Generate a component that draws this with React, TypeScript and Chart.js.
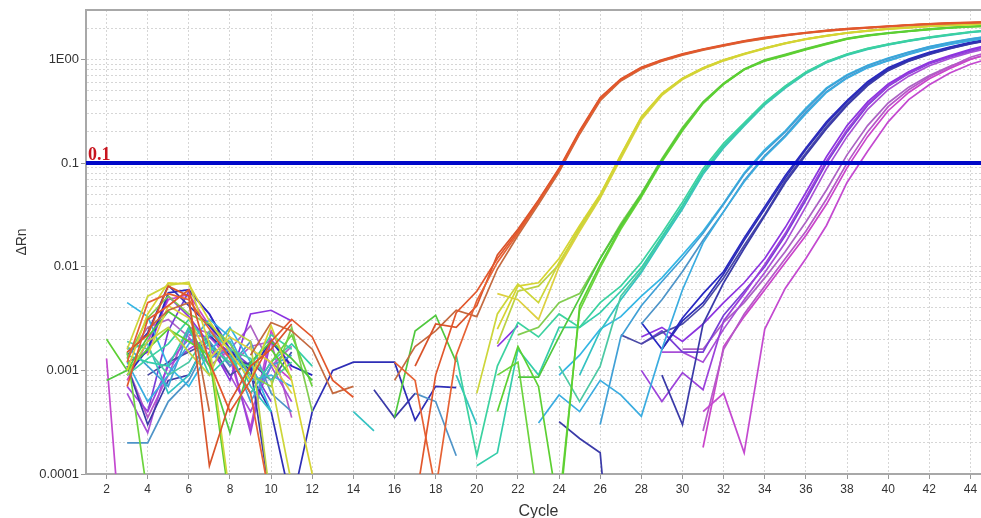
import React, { useEffect, useRef } from 'react';
import { Chart, registerables } from 'chart.js';

Chart.register(...registerables);

const n = null;

const CYCLES = [1, 2, 3, 4, 5, 6, 7, 8, 9, 10, 11, 12, 13, 14, 15, 16, 17, 18, 19, 20, 21, 22, 23, 24, 25, 26, 27, 28, 29, 30, 31, 32, 33, 34, 35, 36, 37, 38, 39, 40, 41, 42, 43, 44, 45];
const X_TICKS = [2, 4, 6, 8, 10, 12, 14, 16, 18, 20, 22, 24, 26, 28, 30, 32, 34, 36, 38, 40, 42, 44];
const Y_TICKS = [0.0001, 0.001, 0.01, 0.1, 1];
const Y_TICK_LABELS = ['0.0001', '0.001', '0.01', '0.1', '1E00'];
const Y_GRID = [
  0.0001, 0.0002, 0.0003, 0.0004, 0.0005, 0.0006, 0.0007, 0.0008, 0.0009,
  0.001, 0.002, 0.003, 0.004, 0.005, 0.006, 0.007, 0.008, 0.009,
  0.01, 0.02, 0.03, 0.04, 0.05, 0.06, 0.07, 0.08, 0.09,
  0.1, 0.2, 0.3, 0.4, 0.5, 0.6, 0.7, 0.8, 0.9,
  1, 2, 3,
];
const THRESHOLD = 0.1;
const THRESHOLD_LABEL = '0.1';
const X_TITLE = 'Cycle';
const Y_TITLE = 'ΔRn';

// ---- orange group ----
const O1 = [n, n, .0007, .0031, .0042, .006, .0012, .0004, .0008, .0019,
  .0031, .0021, .0008, .00055, n, n, .00005, .0009, .0036, .0058,
  .012, .022, .043, .087, .2, .42, .64, .83, .98, 1.12,
  1.25, 1.37, 1.5, 1.61, 1.72, 1.81, 1.9, 1.97, 2.03, 2.09,
  2.15, 2.2, 2.24, 2.27, 2.3];
const O2 = [n, n, .0012, .0045, .0055, .0048, .0025, .0013, .0006, .00005,
  n, n, n, n, n, .0012, .0008, .00007, .0014, .0047,
  .011, .021, .042, .085, .195, .41, .63, .82, .97, 1.11,
  1.24, 1.36, 1.49, 1.6, 1.71, 1.8, 1.89, 1.96, 2.02, 2.08,
  2.14, 2.19, 2.23, 2.26, 2.29];
const O3 = [n, n, .0015, .0022, .0065, .0052, .00012, .0005, .0011, .0016,
  .0028, n, n, n, n, n, .0011, .0028, .0026, .0042,
  .013, .023, .044, .089, .205, .43, .65, .84, .99, 1.13,
  1.26, 1.38, 1.51, 1.63, 1.73, 1.82, 1.91, 1.98, 2.04, 2.1,
  2.16, 2.21, 2.25, 2.28, 2.31];
const O4 = [n, n, n, .0025, .0038, .0045, .0004, n, .0014, .0029,
  .0024, .0016, .0006, .0007, n, .0008, .0017, .0024, .0038, .0033,
  .0095, .02, .04, .082, .19, .4, .62, .81, .96, 1.1,
  1.23, 1.35, 1.48, 1.59, 1.7, 1.79, 1.88, 1.95, 2.01, 2.07,
  2.13, 2.18, 2.22, 2.25, 2.28];
// ---- yellow group ----
const Y1 = [n, n, .001, .0035, .007, .0068, .003, .0015, .0008, .0027,
  .0008, .0001, n, n, n, n, n, n, n, n,
  .0025, .0065, .007, .012, .025, .05, .12, .28, .47, .66,
  .83, .99, 1.14, 1.29, 1.44, 1.58, 1.7, 1.81, 1.9, 1.98,
  2.04, 2.1, 2.15, 2.19, 2.23];
const Y2 = [n, n, .0016, .0052, .0066, .0071, .0018, .00006, n, .0008,
  .00008, n, n, n, n, n, n, n, n, .0006,
  .0035, .0068, .0045, .011, .023, .047, .115, .27, .46, .65,
  .82, .98, 1.13, 1.28, 1.43, 1.57, 1.69, 1.8, 1.89, 1.97,
  2.03, 2.09, 2.14, 2.18, 2.22];
const Y3 = [n, n, n, .0014, .0042, .0032, .0013, .0021, .0016, .0012,
  .0006, n, n, n, n, n, n, n, n, n,
  .0055, .0048, .0031, .01, .022, .046, .11, .26, .45, .64,
  .81, .97, 1.12, 1.27, 1.42, 1.56, 1.68, 1.79, 1.88, 1.96,
  2.02, 2.08, 2.13, 2.17, 2.21];
const Y4 = [n, n, .0009, .0019, .0026, .0015, .0009, .0025, .0019, .00005,
  n, n, n, n, n, n, n, n, n, n,
  .0018, .0058, .0065, .0105, .024, .049, .118, .275, .465, .655,
  .825, .985, 1.135, 1.285, 1.435, 1.575, 1.695, 1.805, 1.895, 1.975,
  2.035, 2.095, 2.145, 2.185, 2.225];
// ---- green group ----
const G1 = [n, .002, .001, .0016, .0025, .0019, .0014, .00005, n, .0016,
  .00085, n, n, n, n, n, n, n, n, n,
  .0004, .0017, .0007, .00004, .0042, .0105, .024, .048, .105, .21,
  .38, .58, .8, .97, 1.1, 1.25, 1.41, 1.58, 1.7, 1.79,
  1.87, 1.95, 2.02, 2.07, 2.11];
const G2 = [n, .0008, .001, .0021, .0037, .0027, .0011, .00025, .0012, .0019,
  .0013, .0008, n, n, n, .00035, .0024, .0034, .0012, n,
  n, .00086, .00086, .0021, .005, .012, .025, .05, .108, .215,
  .385, .585, .805, .98, 1.11, 1.26, 1.42, 1.59, 1.71, 1.8,
  1.88, 1.96, 2.03, 2.08, 2.12];
const G3 = [n, n, .0015, .00006, n, n, n, n, n, .0012,
  .0022, .0007, n, n, n, n, n, n, n, n,
  .0009, .0012, .00005, .00005, .0038, .0098, .023, .047, .103, .205,
  .375, .575, .795, .965, 1.09, 1.24, 1.4, 1.57, 1.69, 1.78,
  1.86, 1.94, 2.01, 2.06, 2.1];
const G4 = [n, n, .0013, .0032, .0052, .0035, .0028, .0018, .0009, .0007,
  .0026, .0004, n, n, n, n, n, n, n, n,
  n, .0022, .0026, .0045, .0055, .012, .026, .051, .11, .22,
  .39, .59, .81, .99, 1.12, 1.27, 1.43, 1.6, 1.72, 1.81,
  1.89, 1.97, 2.04, 2.09, 2.13];
// ---- teal group ----
const T1 = [n, n, .0009, .0013, .0018, .0031, .0017, .0012, .0011, .0022,
  .0016, n, n, n, n, n, n, n, .0014, .00015,
  .0011, .0029, .0021, .0035, .0026, .0045, .0065, .011, .021, .042,
  .088, .155, .245, .385, .555, .755, .955, 1.13, 1.28, 1.41,
  1.53, 1.64, 1.75, 1.85, 1.93];
const T2 = [n, n, .0014, .0012, .0011, .0026, .0009, .0014, .0006, .0012,
  .0018, .0011, n, n, n, n, n, n, n, .00012,
  .00016, .0016, .0009, .0026, .0026, .0036, .0058, .0098, .0195, .039,
  .083, .148, .238, .378, .548, .748, .948, 1.12, 1.27, 1.4,
  1.52, 1.63, 1.74, 1.84, 1.92];
const T3 = [n, n, .0019, .0016, .0009, .0012, .0024, .0016, .0013, .0008,
  .0012, n, n, n, n, n, n, n, n, n,
  n, n, n, .0011, .0005, .0011, .0052, .0092, .019, .038,
  .081, .145, .234, .372, .54, .74, .94, 1.11, 1.26, 1.39,
  1.51, 1.62, 1.73, 1.83, 1.91];
const T4 = [n, n, .0016, .0018, .0006, .0009, .0022, .0019, .0007, .0004,
  n, n, n, .0004, .00026, n, n, n, .0009, .0003,
  n, n, n, n, .0009, .0024, .0048, .0088, .018, .036,
  .078, .14, .228, .365, .53, .73, .93, 1.1, 1.25, 1.38,
  1.5, 1.61, 1.72, 1.82, 1.9];
// ---- light blue group ----
const L1 = [n, n, .0012, .0005, .0009, .0018, .0031, .0021, .0008, .0009,
  .0007, n, n, n, n, n, n, n, n, n,
  n, n, .00031, .00058, .0004, .0008, .00058, .00036, .0016, .006,
  .017, .034, .066, .115, .18, .3, .48, .66, .83, .97,
  1.12, 1.27, 1.4, 1.52, 1.63];
const L2 = [n, n, .0017, .0011, .0007, .0024, .0013, .0016, .0005, .0011,
  .0014, n, n, n, n, n, n, n, n, n,
  n, n, n, n, n, .0003, .0021, .0042, .0072, .012,
  .021, .04, .078, .13, .2, .33, .52, .7, .87, 1.02,
  1.17, 1.32, 1.45, 1.57, 1.68];
const L3 = [n, n, .0045, .0033, .0011, .0007, .0015, .0026, .0012, .0004,
  n, n, n, n, n, n, n, n, n, n,
  n, n, n, .0009, .0014, .0025, .0033, .0052, .0078, .013,
  .022, .041, .08, .135, .205, .34, .53, .71, .88, 1.03,
  1.18, 1.33, 1.46, 1.58, 1.69];
const L4 = [n, n, .0002, .0002, .0005, .0008, .0019, .0011, .0019, .0006,
  .0004, n, n, n, n, n, .0006, .0005, .00015, n,
  n, n, n, n, n, n, n, .0028, .0048, .009,
  .018, .034, .068, .118, .185, .31, .49, .67, .84, .98,
  1.13, 1.28, 1.41, 1.53, 1.64];
// ---- dark blue group ----
const D1 = [n, n, .0014, .0023, .0066, .0042, .0027, .0016, .0009, .0004,
  .00005, .0004, .001, .0012, .0012, .0012, .00033, .0007, .00068, n,
  n, n, n, n, n, n, n, n, .0016, .003,
  .0045, .0085, .018, .036, .072, .135, .24, .39, .59, .81,
  .99, 1.15, 1.3, 1.44, 1.57];
const D2 = [n, n, .0011, .0003, .0008, .0009, .0022, .0014, .0011, .00005,
  n, n, n, n, .00065, .00035, .0006, n, n, n,
  n, n, n, .00032, .00022, .00016, .000001, n, .0009, .0003,
  .0028, .007, .015, .031, .065, .12, .215, .36, .56, .78,
  .96, 1.12, 1.27, 1.41, 1.54];
const D3 = [n, n, .0009, .0016, .0056, .006, .0035, .0015, .001, .0019,
  .0011, .0009, n, n, n, n, n, n, n, n,
  n, n, n, n, n, n, n, .0029, .0016, .0032,
  .0055, .009, .019, .038, .076, .14, .25, .4, .61, .83,
  1.01, 1.17, 1.32, 1.46, 1.59];
const D4 = [n, n, n, .0009, .0012, .0015, .0019, .0009, .0012, .0008,
  .0015, n, n, n, n, n, n, n, n, n,
  n, n, n, n, n, n, .0022, .0018, .0023, .0028,
  .0042, .0078, .016, .032, .068, .125, .225, .37, .57, .79,
  .97, 1.13, 1.28, 1.42, 1.55];
// ---- violet group ----
const P1 = [n, n, .0012, .0015, .0052, .0033, .0018, .0008, .0035, .0038,
  .003, n, n, n, n, n, n, n, n, n,
  .0017, .0027, n, n, n, n, n, .0021, .0026, .0019,
  .0028, .0045, .007, .012, .024, .052, .115, .23, .39, .58,
  .76, .94, 1.09, 1.25, 1.4];
const P2 = [n, n, .0007, .0004, .0011, .0016, .0021, .0015, .00025, .002,
  .0011, n, n, n, n, n, n, n, n, n,
  n, n, n, n, n, n, n, .001, .0005, .00095,
  .00065, .003, .0055, .0105, .021, .047, .105, .21, .37, .56,
  .74, .92, 1.07, 1.22, 1.37];
const P3 = [n, n, n, .0004, .0024, .0058, .0035, .0016, .0011, .0005,
  n, n, n, n, n, n, n, n, n, n,
  n, n, n, n, n, n, n, .0018, .0024, .0015,
  .0015, .0034, .0058, .01, .02, .044, .1, .2, .36, .55,
  .73, .91, 1.06, 1.21, 1.35];
const P4 = [n, n, .0006, .00025, .0012, .002, .0016, .0009, .0004, .0011,
  .0005, n, n, n, n, n, n, n, n, n,
  n, n, n, n, n, n, n, n, .0015, .0015,
  .0012, .0025, .0048, .0088, .017, .038, .088, .18, .33, .51,
  .69, .87, 1.02, 1.17, 1.3];
// ---- magenta group ----
const M1 = [n, .0013, .000004, n, n, .0022, .0021, .0013, .00028, .0024,
  .001, n, n, n, n, n, n, n, n, n,
  n, n, n, n, n, n, n, n, n, n,
  .0004, .0006, .00016, .0025, .0062, .012, .025, .065, .13, .25,
  .41, .57, .74, .9, 1.03];
const M2 = [n, n, .0011, .00035, .0009, .0026, .0023, .0011, .0017, .0019,
  .00035, n, n, n, n, n, n, n, n, n,
  n, n, n, n, n, n, n, n, n, n,
  .00026, .0016, .0035, .0065, .012, .022, .045, .1, .2, .35,
  .51, .68, .85, 1.05, 1.2];
const M3 = [n, n, .0008, .0019, .0048, .0054, .0027, .0013, .0006, .0012,
  .0008, n, n, n, n, n, n, n, n, n,
  n, n, n, n, n, n, n, n, n, n,
  .00018, .0017, .0033, .006, .011, .02, .04, .09, .18, .32,
  .48, .65, .82, 1.0, 1.15];
const M4 = [n, n, .0013, .0026, .0031, .0021, .0011, .0016, .0027, .0011,
  .0017, n, n, n, n, n, n, n, n, n,
  n, n, n, n, n, n, n, n, n, .0016,
  .0016, .0029, .0045, .0078, .014, .027, .055, .12, .23, .38,
  .54, .7, .86, 1.01, 1.13];

const SERIES = [O1, O2, O3, O4, Y1, Y2, Y3, Y4, G1, G2, G3, G4, T1, T2, T3, T4,
  L1, L2, L3, L4, D1, D2, D3, D4, P1, P2, P3, P4, M1, M2, M3, M4];
const SERIES_COLORS = [
  '#e2572c', '#e66234', '#d9532a', '#c46a40',
  '#d6d432', '#cdd63a', '#ddd040', '#bcd242',
  '#5cd032', '#50c83e', '#6cd43e', '#82cd50',
  '#3cd2a0', '#34cdaa', '#4cc9a4', '#34c2c2',
  '#3aace0', '#40a0d6', '#34b6e4', '#4e94c8',
  '#2e2eb6', '#3a3aa8', '#2828c2', '#4b4ba6',
  '#8c34e0', '#9c42da', '#783ed6', '#a84ed6',
  '#c449d0', '#b658c8', '#ca44ca', '#ac62c4',
];

const FONT = '"Liberation Sans", Arial, sans-serif';

const framePlugin = {
  id: 'frameAndThreshold',
  afterDatasetsDraw(chart: any) {
    const { ctx, chartArea, scales } = chart;
    ctx.save();
    ctx.strokeStyle = '#a8a8a8';
    ctx.lineWidth = 2;
    ctx.beginPath();
    ctx.moveTo(chartArea.left, chartArea.top);
    ctx.lineTo(chartArea.right, chartArea.top);
    ctx.stroke();
    const y = scales.y.getPixelForValue(THRESHOLD);
    ctx.fillStyle = '#c8141e';
    ctx.font = 'bold 18px "Liberation Serif", "Times New Roman", serif';
    ctx.textBaseline = 'alphabetic';
    ctx.textAlign = 'left';
    ctx.fillText(THRESHOLD_LABEL, chartArea.left + 2, y - 3);
    ctx.restore();
  },
};

export default function App() {
  const canvasRef = useRef<HTMLCanvasElement | null>(null);

  useEffect(() => {
    if (!canvasRef.current) return;
    const datasets: any[] = [
      {
        label: 'Threshold',
        data: [{ x: CYCLES[0], y: THRESHOLD }, { x: CYCLES[CYCLES.length - 1], y: THRESHOLD }],
        borderColor: '#0008c8',
        borderWidth: 4,
        order: 0,
      },
    ];
    SERIES.forEach((vals, i) => {
      datasets.push({
        label: 'Well ' + (i + 1),
        data: CYCLES.map((c, k) => ({ x: c, y: vals[k] === undefined ? null : vals[k] })),
        borderColor: SERIES_COLORS[i],
        borderWidth: 1.7,
        order: 1,
      });
    });

    const chart = new Chart(canvasRef.current, {
      type: 'line',
      data: { datasets },
      plugins: [framePlugin],
      options: {
        animation: false,
        responsive: true,
        maintainAspectRatio: false,
        spanGaps: false,
        events: [],
        layout: { padding: { top: 10, right: 9, left: 0, bottom: 0 } },
        elements: { point: { radius: 0 }, line: { tension: 0, fill: false } },
        plugins: { legend: { display: false }, tooltip: { enabled: false } },
        scales: {
          x: {
            type: 'linear',
            min: CYCLES[0],
            max: CYCLES[CYCLES.length - 1],
            afterBuildTicks: (s: any) => { s.ticks = X_TICKS.map((v) => ({ value: v })); },
            afterFit: (s: any) => { s.height = 44; },
            ticks: { font: { family: FONT, size: 12 }, color: '#333', maxRotation: 0, autoSkip: false, padding: 3 },
            grid: { color: '#d6d6d6', lineWidth: 1, tickColor: '#999', tickLength: 5, tickBorderDash: [], drawTicks: true },
            border: { display: true, color: '#a8a8a8', width: 2, dash: [2, 2] },
            title: { display: true, text: X_TITLE, font: { family: FONT, size: 16 }, color: '#333', padding: { top: 0, bottom: -3 } },
          },
          y: {
            type: 'logarithmic',
            min: Y_GRID[0],
            max: Y_GRID[Y_GRID.length - 1],
            afterBuildTicks: (s: any) => { s.ticks = Y_GRID.map((v) => ({ value: v })); },
            afterFit: (s: any) => { s.width = 86; },
            ticks: {
              autoSkip: false,
              font: { family: FONT, size: 13 },
              color: '#333',
              padding: 2,
              callback: (v: any) => {
                const i = Y_TICKS.indexOf(Number(v));
                return i >= 0 ? Y_TICK_LABELS[i] : '';
              },
            },
            grid: {
              color: '#d6d6d6',
              lineWidth: 1,
              tickLength: 5,
              tickBorderDash: [],
              tickColor: (c: any) => (c.tick && Y_TICKS.indexOf(c.tick.value) >= 0 ? '#999' : 'rgba(0,0,0,0)'),
            },
            border: { display: true, color: '#a8a8a8', width: 2, dash: [2, 2] },
            title: { display: true, text: Y_TITLE, font: { family: FONT, size: 14 }, color: '#333', padding: { top: 14, bottom: 0 } },
          },
        },
      } as any,
    });
    return () => chart.destroy();
  }, []);

  return (
    <div style={{ position: 'fixed', left: 0, top: 0, width: 981, height: 518, overflow: 'hidden', background: '#fff' }}>
      <div style={{ position: 'relative', width: 1000, height: 518 }}>
        <canvas ref={canvasRef} />
      </div>
    </div>
  );
}
